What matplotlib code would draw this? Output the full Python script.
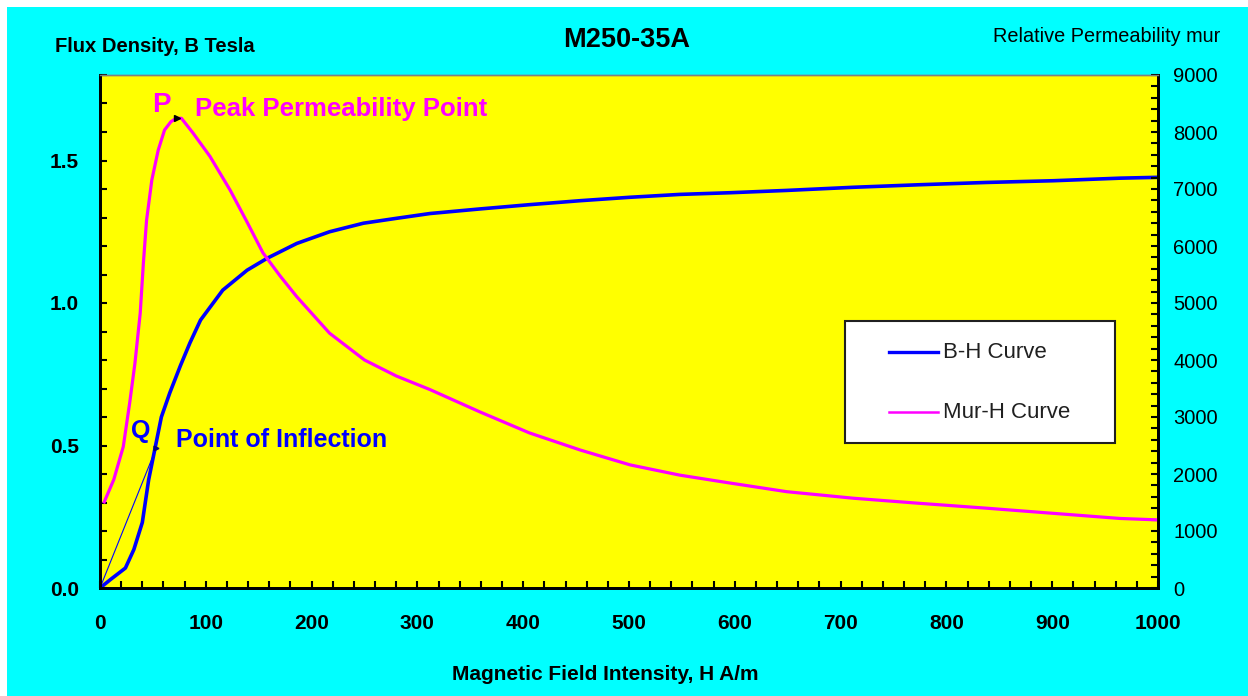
import numpy as np
import matplotlib
matplotlib.use('Agg')
from matplotlib import pyplot as plt
from matplotlib.patches import Rectangle
from matplotlib.lines import Line2D
from matplotlib.ticker import FormatStrFormatter

# B-H curve (H in A/m, B in Tesla)
h_bh = [0, 10, 24, 32, 40, 46, 52, 58, 66, 76, 85, 95, 116, 139, 158, 186,
        217, 249, 280, 312, 359, 406, 454, 501, 548, 596, 649, 712, 775, 838,
        901, 964, 1000]
b_bh = [0.0, 0.03, 0.07, 0.135, 0.23, 0.38, 0.49, 0.60, 0.685, 0.78, 0.86,
        0.94, 1.045, 1.115, 1.157, 1.209, 1.25, 1.28, 1.297, 1.314, 1.330, 1.345,
        1.359, 1.371, 1.381, 1.387, 1.395, 1.406, 1.415, 1.423, 1.429, 1.438, 1.441]

# Mur-H curve (relative permeability)
h_mu = [4, 13, 22, 28, 33, 38, 41, 44, 49, 55, 61, 67, 72, 77, 88, 104, 123,
        139, 154, 170, 186, 217, 250, 280, 312, 359, 406, 454, 501, 548, 596,
        649, 712, 775, 838, 901, 964, 1000]
mur = [1510, 1900, 2480, 3240, 3940, 4820, 5700, 6450, 7160, 7680, 8035, 8180,
       8240, 8240, 7980, 7570, 6980, 6420, 5880, 5480, 5110, 4470, 4000, 3720,
       3480, 3090, 2720, 2420, 2160, 1980, 1840, 1690, 1575, 1485, 1400, 1310,
       1220, 1195]

p_point = (73, 8240)   # peak permeability
q_point = (53, 0.49)   # point of inflection

CYAN = '#00FFFF'
YELLOW = '#FFFF00'
BLUE = '#0000FF'
MAGENTA = '#FF00FF'

plt.rcParams['font.family'] = ['Liberation Sans', 'DejaVu Sans']

W, H = 1248, 696
fig = plt.figure(figsize=(W / 100, H / 100), dpi=100, facecolor='white')
fig.add_artist(Rectangle((7 / W, 0), 1, 1 - 7 / H, transform=fig.transFigure,
                         facecolor=CYAN, edgecolor='none', zorder=-10))

ax = fig.add_axes([100 / W, 1 - 588 / H, 1058 / W, 513 / H])
ax.set_facecolor(YELLOW)
ax2 = ax.twinx()

ax.plot(h_bh, b_bh, color=BLUE, lw=2.6, solid_joinstyle='round')
ax.plot([0, q_point[0]], [0, q_point[1]], color=BLUE, lw=0.8)
ax2.plot(h_mu, mur, color=MAGENTA, lw=2.3, solid_joinstyle='round')
ax2.plot([p_point[0]], [p_point[1]], marker='>', color='black', ms=4)
ax.plot([q_point[0]], [q_point[1]], marker='>', color='#00007F', ms=3.5)

ax.set_xlim(0, 1000)
ax.set_ylim(0, 1.8)
ax2.set_ylim(0, 9000)

ax.set_xticks(np.arange(0, 1001, 100))
ax.set_xticks(np.arange(0, 1001, 20), minor=True)
ax.set_yticks([0, 0.5, 1.0, 1.5])
ax.set_yticks(np.arange(0, 1.81, 0.1), minor=True)
ax.yaxis.set_major_formatter(FormatStrFormatter('%.1f'))
ax2.set_yticks(np.arange(0, 9001, 1000))
ax2.set_yticks(np.arange(0, 9001, 200), minor=True)

ax.tick_params(axis='both', which='both', direction='in', length=5, width=1.5,
               top=False, right=False, colors='black')
ax.tick_params(axis='x', which='major', pad=19, labelsize=15)
ax.tick_params(axis='y', which='major', pad=15, labelsize=15)
ax2.tick_params(axis='y', which='both', direction='in', length=5, width=1.5,
                pad=11, labelsize=14.5, left=False)
for lab in ax.get_xticklabels() + ax.get_yticklabels():
    lab.set_fontweight('bold')

for a in (ax, ax2):
    for side in ('left', 'bottom', 'right'):
        a.spines[side].set_color('black')
        a.spines[side].set_linewidth(2)
    a.spines['top'].set_color('#808080')
    a.spines['top'].set_linewidth(1)

# annotations
ax2.text(58, 8470, 'P', color=MAGENTA, fontsize=20, fontweight='bold',
         ha='center', va='center')
ax2.text(90, 8400, 'Peak Permeability Point', color=MAGENTA, fontsize=18.5,
         fontweight='bold', ha='left', va='center')
ax.text(38, 0.55, 'Q', color=BLUE, fontsize=18, fontweight='bold',
        ha='center', va='center')
ax.text(72, 0.52, 'Point of Inflection', color=BLUE, fontsize=18,
        fontweight='bold', ha='left', va='center')

# legend box
ax2.add_patch(Rectangle((0.704, 0.2827), 0.255, 0.2378, transform=ax2.transAxes,
                        facecolor='white', edgecolor='#202020', lw=1.5, zorder=5))
for yy, col, lw, txt in [(0.460, BLUE, 2.4, 'B-H Curve'),
                         (0.343, MAGENTA, 1.8, 'Mur-H Curve')]:
    ax2.add_line(Line2D([0.7457, 0.7921], [yy, yy], transform=ax2.transAxes,
                        color=col, lw=lw, zorder=6))
    ax2.text(0.797, yy, txt, transform=ax2.transAxes, fontsize=16,
             color='#202020', ha='left', va='center', zorder=6)

# titles and axis captions
fig.text(627 / W, 1 - 40 / H, 'M250-35A', ha='center', va='center',
         fontsize=19.5, fontweight='bold')
fig.text(55 / W, 1 - 46 / H, 'Flux Density, B Tesla', ha='left', va='center',
         fontsize=14.5, fontweight='bold')
fig.text(1220 / W, 1 - 37 / H, 'Relative Permeability mur', ha='right',
         va='center', fontsize=14.3)
fig.text(605 / W, 1 - 674 / H, 'Magnetic Field Intensity, H A/m', ha='center',
         va='center', fontsize=15, fontweight='bold')

fig.savefig('out.png', dpi=100, facecolor=fig.get_facecolor())
